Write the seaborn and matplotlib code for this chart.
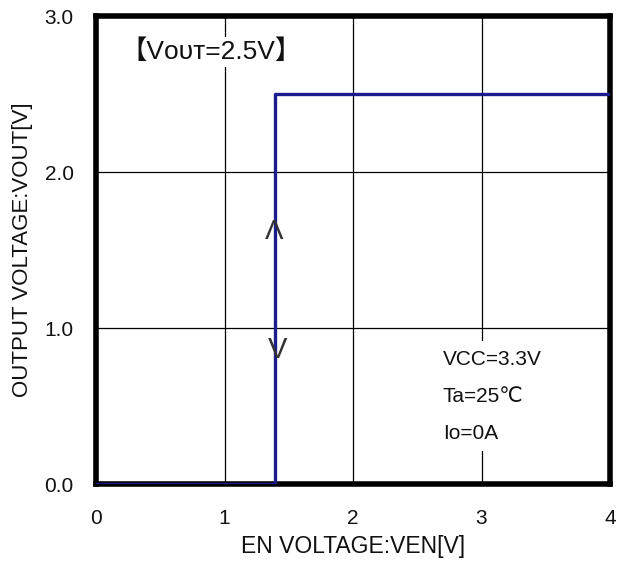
import matplotlib
matplotlib.use("Agg")
import matplotlib.pyplot as plt
import seaborn as sns
import pandas as pd

# EN threshold step
en_voltage = [0.0, 1.39, 4.0]
out_voltage = [0.0, 2.5, 2.5]

x_ticks = [0, 1, 2, 3, 4]
y_ticks = [0.0, 1.0, 2.0, 3.0]
y_tick_labels = ["0.0", "1.0", "2.0", "3.0"]

conditions = ["VCC=3.3V", "Ta=25\u2103", "Io=0A"]

sns.set_theme(style="white")
plt.rcParams["font.family"] = ["Liberation Sans", "DejaVu Sans", "Noto Sans CJK JP"]

df = pd.DataFrame({"ven": en_voltage, "vout": out_voltage})

fig = plt.figure(figsize=(6.28, 5.68), dpi=100)
ax = fig.add_axes([96 / 628, 1 - 484 / 568, 514 / 628, 468 / 568])

sns.lineplot(data=df, x="ven", y="vout", ax=ax, color="#1c1c8e", linewidth=2.4,
             drawstyle="steps-post", estimator=None, sort=False, zorder=4)

ax.set_xlim(0, 4)
ax.set_ylim(0, 3)
ax.set_xticks(x_ticks)
ax.set_yticks(y_ticks)
ax.set_yticklabels(y_tick_labels)
ax.grid(True, color="black", linewidth=0.9)
ax.set_axisbelow(True)
ax.tick_params(length=0, labelsize=15, colors="#111111")
ax.tick_params(axis="x", pad=18)
ax.tick_params(axis="y", pad=16)
for s in ax.spines.values():
    s.set_color("black")
    s.set_linewidth(4)

ax.set_xlabel("EN VOLTAGE:VEN[V]", fontsize=16.5, labelpad=5, color="#111111")
ax.set_ylabel("OUTPUT VOLTAGE:VOUT[V]", fontsize=16, labelpad=8, color="#111111")

# annotations
ax.text(0.19, 2.77, "\u3010V\u1d0f\u1d1c\u1d1b=2.5V\u3011", fontsize=19, va="center", ha="left",
        color="#111111", zorder=3,
        bbox=dict(facecolor="white", edgecolor="none", pad=2))
ax.text(2.70, 0.564, "\n".join(conditions), fontsize=15, va="center", ha="left",
        linespacing=2.2, color="#111111", zorder=3,
        bbox=dict(facecolor="white", edgecolor="none", pad=6))

# direction marks on the threshold edge
ax.text(1.385, 1.615, "\u039b", fontsize=20, ha="center", va="center", color="#333333", zorder=5)
ax.text(1.41, 0.86, "V", fontsize=21, ha="center", va="center", color="#333333", zorder=5)

fig.savefig("out.png", dpi=100)
